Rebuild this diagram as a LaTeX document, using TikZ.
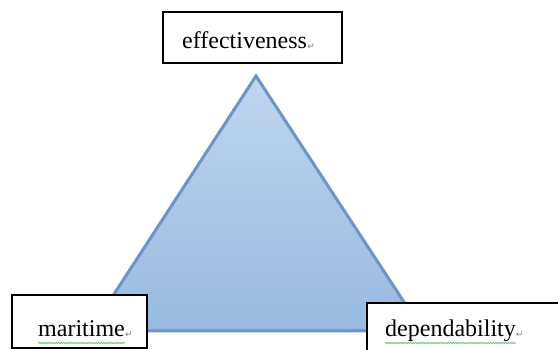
\documentclass[tikz,border=0pt]{standalone}
\usepackage{fontspec}
\setmainfont{Liberation Serif}
\newfontfamily\symfont{DejaVu Sans}
\usetikzlibrary{decorations.pathmorphing}
\definecolor{triTop}{RGB}{190,213,239}
\definecolor{triBot}{RGB}{152,186,225}
\definecolor{triEdge}{RGB}{108,148,196}
\definecolor{wavyGreen}{RGB}{90,190,90}
\tikzset{
  box/.style={draw=black, line width=1.6pt, fill=white},
  lbl/.style={anchor=base west, inner sep=0pt, font=\fontsize{24}{28}\selectfont},
  pmark/.style={anchor=base west, inner sep=0pt, text=gray, font=\symfont\fontsize{9}{10}\selectfont},
  wavy/.style={draw=wavyGreen, line width=0.6pt, decorate, decoration={snake, amplitude=0.6pt, segment length=2.5pt}}
}
\begin{document}
\begin{tikzpicture}[x=1pt,y=-1pt]
\useasboundingbox (0,0) rectangle (558,350);
\clip (0,0) rectangle (558,350);
% triangle
\coordinate (apex) at (256,76);
\coordinate (bl) at (90,331);
\coordinate (br) at (423,331);
\shade[top color=triTop, bottom color=triBot] (apex) -- (bl) -- (br) -- cycle;
\draw[triEdge, line width=3pt, line join=miter] (apex) -- (bl) -- (br) -- cycle;
% boxes
\node[box, minimum width=179pt, minimum height=51pt, inner sep=0pt] (effbox) at (252.5,37.5) {};
\node[box, minimum width=135pt, minimum height=53pt, inner sep=0pt] (marbox) at (79.5,321.5) {};
\node[box, minimum width=210pt, minimum height=70pt, inner sep=0pt, anchor=north west] (depbox) at (366,302) {};
% labels
\node[lbl] (efftxt) at (182,49) {effectiveness};
\node[pmark] (effpm) at ([yshift=-1pt]efftxt.base east) {\char"21B5};
\node[lbl] (martxt) at (38,337) {maritime};
\node[pmark] (marpm) at ([yshift=-1pt]martxt.base east) {\char"21B5};
\node[lbl] (deptxt) at (385,337) {dependability};
\node[pmark] (deppm) at ([yshift=-1pt]deptxt.base east) {\char"21B5};
% wavy underlines
\draw[wavy] ([yshift=-6pt]martxt.base west) -- ([yshift=-6pt]martxt.base east);
\draw[wavy] ([yshift=-6pt]deptxt.base west) -- ([yshift=-6pt]deptxt.base east);
\end{tikzpicture}
\end{document}
